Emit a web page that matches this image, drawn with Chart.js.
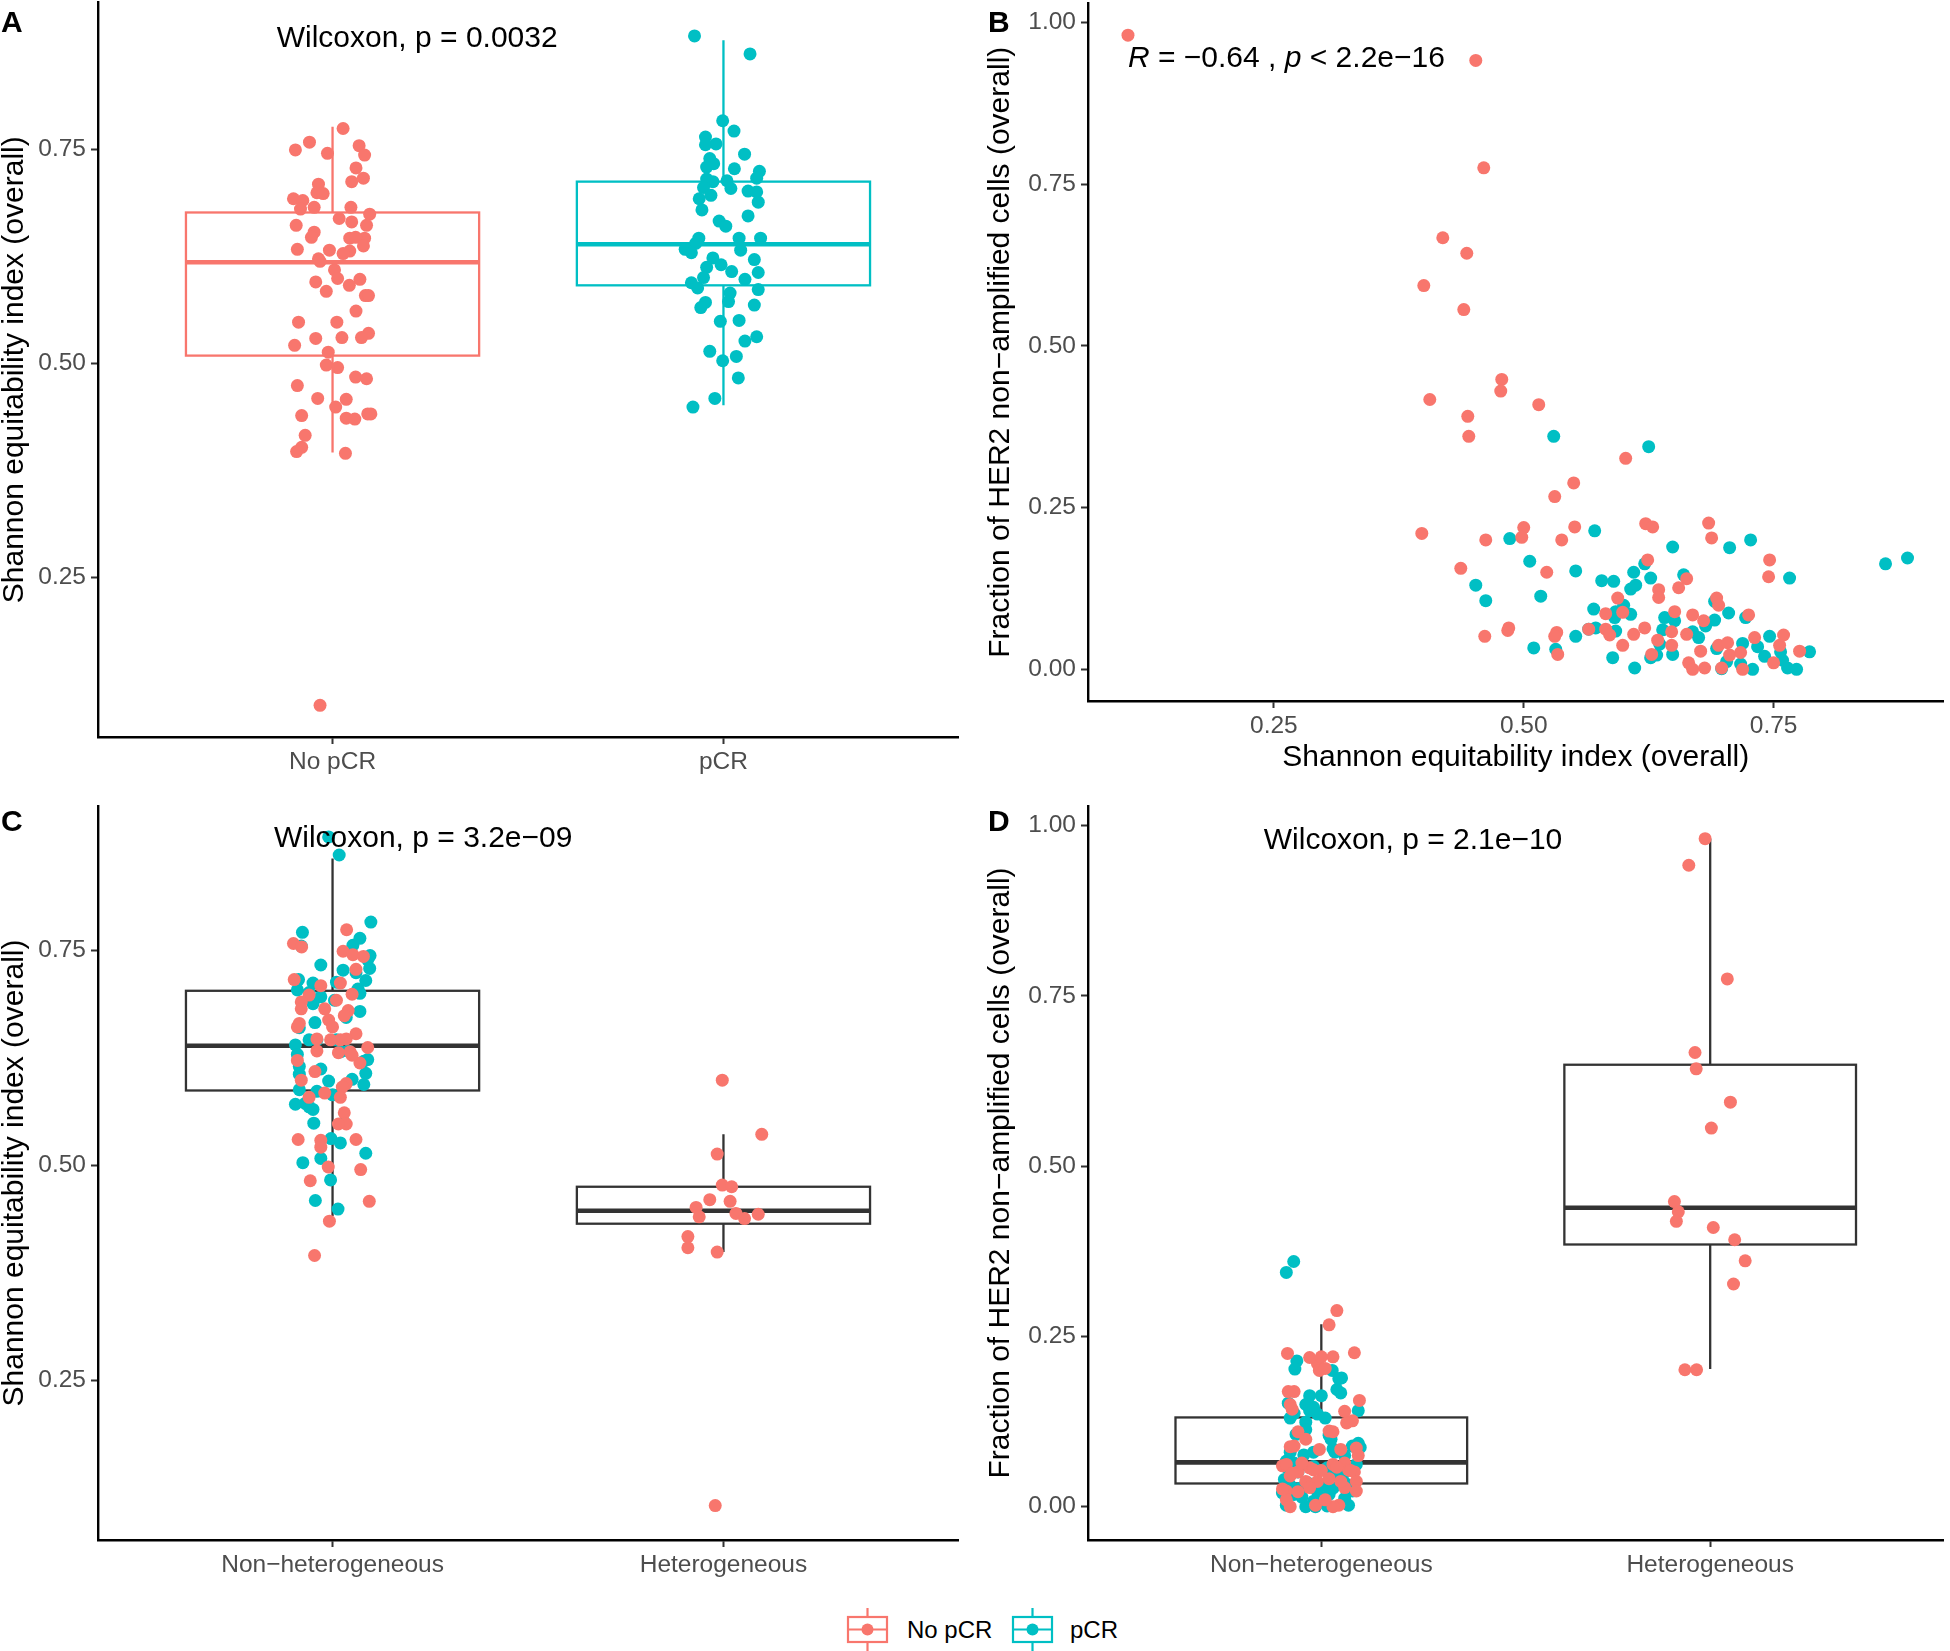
<!DOCTYPE html>
<html>
<head>
<meta charset="utf-8">
<script src="https://cdn.jsdelivr.net/npm/chart.js@4.4.1/dist/chart.umd.min.js"></script>
<style>
body { margin: 0; background: #fff; width: 1950px; height: 1651px; position: relative; overflow: hidden; font-family: "Liberation Sans", Arial, sans-serif; }
canvas { position: absolute; }
.tag { position: absolute; font-weight: bold; font-size: 30px; line-height: 1; color: #000; z-index: 2; }
.lg { position: absolute; font-size: 24px; line-height: 1; color: #000; }
svg { position: absolute; }
</style>
</head>
<body>
<canvas id="chartA" width="975" height="794" style="left:0;top:-4px"></canvas>
<canvas id="chartB" width="975" height="793" style="left:975px;top:-3px"></canvas>
<canvas id="chartC" width="975" height="810" style="left:0;top:790px"></canvas>
<canvas id="chartD" width="975" height="810" style="left:975px;top:790px"></canvas>
<div class="tag" style="left:1px;top:7px">A</div>
<div class="tag" style="left:988px;top:7px">B</div>
<div class="tag" style="left:1px;top:806px">C</div>
<div class="tag" style="left:988px;top:806px">D</div>

<svg width="44" height="44" style="left:846px;top:1608px">
  <line x1="21.5" y1="0" x2="21.5" y2="9" stroke="#F8766D" stroke-width="2.2"/>
  <line x1="21.5" y1="34" x2="21.5" y2="44" stroke="#F8766D" stroke-width="2.2"/>
  <rect x="2" y="9" width="39" height="25" fill="none" stroke="#F8766D" stroke-width="2.2"/>
  <line x1="2" y1="21.5" x2="41" y2="21.5" stroke="#F8766D" stroke-width="2.2"/>
  <circle cx="21.5" cy="21.5" r="6" fill="#F8766D"/>
</svg>
<div class="lg" style="left:907px;top:1618px">No pCR</div>
<svg width="44" height="44" style="left:1011px;top:1608px">
  <line x1="21.5" y1="0" x2="21.5" y2="9" stroke="#00BFC4" stroke-width="2.2"/>
  <line x1="21.5" y1="34" x2="21.5" y2="44" stroke="#00BFC4" stroke-width="2.2"/>
  <rect x="2" y="9" width="39" height="25" fill="none" stroke="#00BFC4" stroke-width="2.2"/>
  <line x1="2" y1="21.5" x2="41" y2="21.5" stroke="#00BFC4" stroke-width="2.2"/>
  <circle cx="21.5" cy="21.5" r="6" fill="#00BFC4"/>
</svg>
<div class="lg" style="left:1070px;top:1618px">pCR</div>

<script>
const RED = "#F8766D", CYAN = "#00BFC4", DARK = "#333333";
Chart.defaults.font.family = '"Liberation Sans", Arial, sans-serif';

const responseGroups = ["No pCR", "pCR"];
const hetGroups = ["Non\u2212heterogeneous", "Heterogeneous"];
const shannonTicks = [0.25, 0.50, 0.75];
const fractionTicks = [0.00, 0.25, 0.50, 0.75, 1.00];
const shannonTitle = "Shannon equitability index (overall)";
const fractionTitle = "Fraction of HER2 non\u2212amplified cells (overall)";

// panel A: [jitter, shannon]
const noPcrA = [[0.027,0.774],[-0.059,0.758],[-0.095,0.749],[-0.013,0.745],[0.068,0.754],[0.082,0.743],[0.060,0.728],[0.079,0.716],[0.049,0.712],[-0.036,0.709],
  [-0.040,0.699],[-0.024,0.698],[-0.100,0.692],[-0.076,0.690],[-0.082,0.680],[-0.047,0.682],[0.047,0.682],[0.095,0.674],[0.017,0.669],[0.049,0.665],
  [-0.093,0.661],[0.087,0.661],[-0.047,0.653],[-0.054,0.647],[0.044,0.646],[0.082,0.646],[0.059,0.647],[0.079,0.637],[-0.090,0.633],[-0.008,0.632],
  [0.044,0.631],[-0.036,0.622],[-0.032,0.619],[0.027,0.628],[0.005,0.609],[0.013,0.599],[0.070,0.598],[-0.043,0.595],[0.043,0.591],[-0.016,0.584],
  [0.084,0.579],[0.092,0.579],[0.060,0.561],[-0.087,0.548],[0.011,0.548],[0.092,0.535],[0.074,0.530],[-0.043,0.529],[0.024,0.530],[-0.097,0.521],
  [-0.011,0.513],[-0.016,0.498],[0.013,0.495],[0.059,0.484],[0.087,0.482],[-0.090,0.474],[-0.038,0.459],[0.008,0.449],[0.035,0.458],[-0.079,0.439],
  [0.035,0.436],[0.057,0.435],[0.090,0.441],[0.098,0.441],[-0.070,0.416],[-0.079,0.402],[-0.092,0.397],[0.033,0.395],[-0.032,0.101]];
const pcrA = [[-0.074,0.882],[0.068,0.861],[-0.002,0.783],[0.027,0.771],[-0.046,0.764],[-0.019,0.756],[-0.046,0.755],[0.054,0.744],[-0.035,0.739],[-0.025,0.733],
  [-0.043,0.729],[0.028,0.727],[0.092,0.724],[0.085,0.716],[-0.043,0.715],[0.009,0.713],[-0.027,0.712],[-0.051,0.705],[0.019,0.704],[0.063,0.701],
  [0.085,0.700],[-0.032,0.696],[-0.062,0.692],[0.089,0.688],[-0.055,0.679],[0.063,0.672],[-0.011,0.666],[0.006,0.660],[-0.063,0.646],[0.040,0.646],
  [0.095,0.646],[-0.071,0.640],[-0.098,0.633],[0.044,0.632],[-0.082,0.629],[-0.027,0.623],[0.079,0.621],[-0.006,0.615],[-0.043,0.612],[0.021,0.607],
  [0.089,0.606],[-0.051,0.600],[-0.082,0.594],[0.055,0.598],[-0.066,0.588],[0.089,0.586],[0.017,0.582],[0.013,0.572],[-0.046,0.571],[-0.058,0.565],
  [0.079,0.568],[-0.008,0.549],[0.040,0.550],[0.085,0.531],[0.055,0.526],[-0.035,0.514],[0.033,0.508],[-0.002,0.503],[0.038,0.483],[-0.022,0.459],[-0.078,0.449]];
// box: [lower whisker, q1, median, q3, upper whisker]
const boxA = [[0.396, 0.509, 0.618, 0.676, 0.776], [0.451, 0.591, 0.639, 0.712, 0.877]];

// panel B: [shannon, fraction]
const noPcrB = [[0.104,0.980],[0.452,0.941],[0.460,0.775],[0.419,0.667],[0.443,0.643],[0.400,0.593],[0.440,0.556],[0.478,0.448],[0.477,0.430],[0.406,0.417],
  [0.515,0.409],[0.444,0.391],[0.445,0.360],[0.602,0.326],[0.550,0.288],[0.531,0.267],[0.398,0.210],[0.500,0.219],[0.498,0.204],[0.551,0.220],
  [0.462,0.200],[0.538,0.200],[0.622,0.225],[0.629,0.220],[0.685,0.226],[0.688,0.203],[0.437,0.156],[0.523,0.150],[0.624,0.169],[0.746,0.169],
  [0.745,0.143],[0.663,0.140],[0.655,0.126],[0.635,0.123],[0.635,0.111],[0.594,0.110],[0.693,0.110],[0.695,0.099],[0.582,0.086],[0.599,0.088],
  [0.651,0.089],[0.669,0.084],[0.725,0.084],[0.485,0.064],[0.484,0.060],[0.533,0.057],[0.531,0.051],[0.461,0.051],[0.565,0.062],[0.582,0.062],
  [0.586,0.053],[0.621,0.064],[0.610,0.054],[0.648,0.058],[0.663,0.054],[0.680,0.075],[0.634,0.045],[0.648,0.037],[0.599,0.037],[0.534,0.023],
  [0.628,0.023],[0.677,0.028],[0.695,0.037],[0.704,0.041],[0.706,0.022],[0.731,0.049],[0.756,0.037],[0.760,0.053],[0.776,0.028],[0.665,0.010],
  [0.669,0.000],[0.681,0.002],[0.698,0.002],[0.719,0.000],[0.750,0.010],[0.717,0.026]];
const pcrB = [[0.884,0.172],[0.862,0.163],[0.530,0.360],[0.625,0.344],[0.571,0.214],[0.486,0.202],[0.727,0.200],[0.649,0.189],[0.706,0.188],[0.506,0.167],
  [0.621,0.163],[0.552,0.152],[0.610,0.150],[0.627,0.141],[0.660,0.146],[0.766,0.141],[0.578,0.137],[0.590,0.136],[0.452,0.130],[0.612,0.130],
  [0.607,0.124],[0.517,0.113],[0.462,0.106],[0.691,0.105],[0.570,0.093],[0.600,0.099],[0.592,0.089],[0.607,0.085],[0.705,0.087],[0.722,0.080],
  [0.641,0.080],[0.651,0.075],[0.691,0.076],[0.682,0.067],[0.591,0.080],[0.572,0.064],[0.565,0.062],[0.639,0.061],[0.586,0.057],[0.592,0.059],
  [0.552,0.051],[0.669,0.058],[0.675,0.049],[0.746,0.051],[0.719,0.040],[0.636,0.039],[0.734,0.035],[0.510,0.033],[0.532,0.031],[0.693,0.032],
  [0.757,0.027],[0.786,0.027],[0.649,0.023],[0.633,0.022],[0.741,0.020],[0.589,0.018],[0.627,0.018],[0.703,0.012],[0.717,0.008],[0.611,0.002],
  [0.698,0.001],[0.729,0.000],[0.764,0.002],[0.773,0.000],[0.759,0.014]];

// panel C: [jitter, shannon]
const noPcrNonHetC = [[0.036,0.774],[-0.100,0.758],[0.027,0.749],[0.052,0.745],[-0.079,0.754],[0.079,0.743],[0.060,0.728],[-0.098,0.716],[0.020,0.712],[-0.030,0.709],
  [0.050,0.699],[-0.060,0.698],[0.010,0.692],[-0.080,0.690],[0.040,0.680],[-0.020,0.682],[-0.080,0.682],[0.030,0.674],[-0.010,0.669],[-0.085,0.665],
  [0.000,0.661],[-0.090,0.661],[0.060,0.653],[-0.040,0.647],[0.020,0.646],[-0.005,0.646],[0.035,0.647],[0.090,0.637],[-0.040,0.633],[0.045,0.632],
  [0.015,0.631],[-0.090,0.622],[0.070,0.619],[0.050,0.628],[-0.045,0.609],[-0.080,0.599],[0.035,0.595],[0.025,0.591],[-0.020,0.584],[0.020,0.579],
  [-0.060,0.579],[0.030,0.561],[0.035,0.548],[0.015,0.548],[-0.088,0.530],[-0.030,0.529],[0.060,0.530],[-0.030,0.521],[-0.011,0.498],[0.072,0.495],
  [-0.057,0.482],[-0.008,0.435],[-0.046,0.395],[0.094,0.458]];
const pcrNonHetC = [[-0.010,0.882],[0.017,0.861],[0.098,0.783],[-0.077,0.771],[0.070,0.764],[0.052,0.756],[-0.080,0.755],[0.096,0.744],[0.090,0.739],[-0.030,0.733],
  [0.095,0.729],[0.027,0.727],[0.060,0.724],[-0.087,0.716],[0.085,0.715],[0.010,0.713],[-0.050,0.712],[0.065,0.705],[-0.090,0.704],[-0.060,0.701],
  [0.070,0.700],[-0.030,0.696],[0.005,0.692],[-0.050,0.688],[0.070,0.679],[0.035,0.672],[-0.045,0.666],[-0.085,0.660],[-0.040,0.646],[-0.060,0.646],
  [0.010,0.646],[-0.095,0.640],[0.040,0.633],[0.020,0.632],[-0.090,0.629],[0.090,0.623],[0.080,0.621],[-0.085,0.615],[-0.030,0.612],[0.085,0.607],
  [-0.085,0.606],[0.050,0.600],[0.080,0.594],[-0.010,0.598],[-0.085,0.588],[-0.040,0.586],[0.000,0.582],[-0.070,0.572],[-0.095,0.571],[-0.050,0.565],
  [-0.060,0.568],[-0.048,0.549],[0.030,0.550],[-0.004,0.531],[0.020,0.526],[0.085,0.514],[-0.030,0.508],[-0.076,0.503],[-0.005,0.483],[-0.044,0.459],[0.014,0.449]];
const noPcrHetC = [[-0.003,0.599],[0.098,0.536],[-0.016,0.513],[-0.003,0.477],[0.021,0.475],[-0.035,0.460],[0.017,0.458],[-0.070,0.451],
  [-0.062,0.440],[0.032,0.444],[0.054,0.438],[0.089,0.443],[-0.091,0.417],[-0.091,0.404],[-0.016,0.399],[-0.021,0.104]];
const boxC = [[0.441, 0.587, 0.639, 0.703, 0.857], [0.399, 0.432, 0.447, 0.475, 0.536]];

// panel D: [jitter, fraction]
const noPcrNonHetD = [[0.04,0.288],[0.02,0.267],[-0.01,0.210],[-0.03,0.219],[0.03,0.220],[-0.005,0.200],[-0.087,0.225],[0.00,0.220],[0.085,0.226],[0.01,0.203],
  [0.098,0.156],[-0.08,0.150],[-0.085,0.169],[-0.07,0.169],[-0.075,0.143],[0.06,0.140],[0.08,0.126],[0.065,0.123],[0.02,0.111],[0.03,0.110],
  [-0.06,0.110],[-0.04,0.099],[0.09,0.086],[-0.08,0.088],[-0.07,0.089],[0.05,0.084],[-0.005,0.084],[0.06,0.064],[-0.10,0.060],[-0.03,0.057],
  [0.085,0.051],[-0.06,0.051],[0.03,0.062],[-0.09,0.062],[0.00,0.053],[-0.05,0.064],[0.07,0.054],[0.04,0.058],[-0.02,0.054],[0.095,0.075],
  [-0.08,0.045],[0.09,0.037],[-0.04,0.037],[0.09,0.023],[-0.09,0.023],[0.06,0.028],[-0.01,0.037],[0.02,0.041],[-0.06,0.022],[-0.075,0.049],
  [0.05,0.037],[0.075,0.053],[-0.03,0.028],[-0.09,0.010],[-0.08,0.000],[0.045,0.002],[-0.015,0.002],[0.03,0.000],[0.01,0.010],[-0.10,0.026]];
const pcrNonHetD = [[0.04,0.172],[0.00,0.163],[-0.071,0.360],[-0.090,0.344],[-0.063,0.214],[-0.068,0.202],[0.028,0.200],[0.052,0.189],[0.045,0.188],[0.050,0.167],
  [-0.03,0.163],[-0.085,0.152],[-0.04,0.150],[-0.03,0.141],[-0.02,0.146],[0.095,0.141],[-0.07,0.137],[-0.01,0.136],[0.01,0.130],[-0.08,0.130],
  [-0.04,0.124],[-0.04,0.113],[-0.065,0.106],[0.02,0.105],[0.095,0.093],[0.025,0.099],[0.08,0.089],[0.03,0.085],[0.10,0.087],[-0.02,0.080],
  [-0.08,0.080],[0.06,0.075],[-0.045,0.076],[-0.09,0.067],[0.035,0.080],[-0.07,0.064],[0.09,0.062],[-0.05,0.061],[0.015,0.057],[-0.02,0.059],
  [0.06,0.051],[-0.09,0.058],[0.03,0.049],[-0.06,0.051],[-0.095,0.040],[0.055,0.039],[-0.035,0.035],[0.065,0.033],[-0.08,0.031],[0.005,0.032],
  [0.03,0.027],[-0.055,0.027],[0.08,0.023],[-0.01,0.022],[-0.10,0.020],[0.02,0.018],[-0.07,0.018],[0.06,0.012],[-0.02,0.008],[-0.09,0.002],
  [0.015,0.001],[-0.015,0.000],[0.07,0.002],[-0.04,0.000],[-0.05,0.014]];
const noPcrHetD = [[-0.013,0.981],[-0.055,0.942],[0.044,0.775],[-0.039,0.667],[-0.036,0.643],[0.052,0.594],[0.003,0.556],[-0.092,0.448],
  [-0.082,0.433],[-0.087,0.419],[0.008,0.410],[0.063,0.392],[0.090,0.361],[0.060,0.327],[-0.065,0.201],[-0.035,0.201]];
const boxD = [[0.000, 0.034, 0.065, 0.131, 0.268], [0.202, 0.385, 0.439, 0.649, 0.981]];

function boxPlugin(stats, colors) {
  return {
    id: "boxes",
    beforeDatasetsDraw(chart) {
      const { ctx, scales: { x, y } } = chart;
      stats.forEach((s, i) => {
        const cx = x.getPixelForValue(i + 1);
        const half = x.getPixelForValue(i + 1.375) - cx;
        const [lo, q1, med, q3, hi] = s.map(v => y.getPixelForValue(v));
        ctx.save();
        ctx.strokeStyle = colors[i];
        ctx.lineWidth = 2.3;
        ctx.beginPath();
        ctx.moveTo(cx, lo); ctx.lineTo(cx, q1);
        ctx.moveTo(cx, q3); ctx.lineTo(cx, hi);
        ctx.stroke();
        ctx.strokeRect(cx - half, q3, 2 * half, q1 - q3);
        ctx.lineWidth = 4.6;
        ctx.beginPath();
        ctx.moveTo(cx - half, med); ctx.lineTo(cx + half, med);
        ctx.stroke();
        ctx.restore();
      });
    }
  };
}

// text pieces drawn at data coordinates
function notePlugin(note) {
  return {
    id: "note",
    afterDatasetsDraw(chart) {
      const { ctx, scales: { x, y } } = chart;
      let px = x.getPixelForValue(note.x);
      const py = y.getPixelForValue(note.y);
      ctx.save();
      ctx.fillStyle = "#000";
      ctx.textBaseline = "middle";
      ctx.textAlign = "left";
      note.parts.forEach(p => {
        ctx.font = (p.italic ? "italic " : "") + '30px "Liberation Sans", Arial, sans-serif';
        ctx.fillText(p.t, px, py);
        px += ctx.measureText(p.t).width;
      });
      ctx.restore();
    }
  };
}

const tickFont = { size: 24.5 };
function noEdgePadding(s) {
  s.paddingTop = 0; s.paddingBottom = 0; s.paddingLeft = 0; s.paddingRight = 0;
}
function axisBase(extra) {
  return Object.assign({
    grid: { drawOnChartArea: false, drawTicks: true, tickLength: 7, tickColor: DARK, tickWidth: 2 },
    border: { display: true, color: "#000", width: 2.4 }
  }, extra);
}

function categoryX(labels, h) {
  return axisBase({
    type: "linear", min: 0.4, max: 2.6,
    afterBuildTicks: s => { s.ticks = [1, 2].map(v => ({ value: v })); },
    afterFit: s => { s.height = h; noEdgePadding(s); },
    ticks: { callback: (v, i) => labels[i], font: tickFont, color: "#4d4d4d", padding: 4, maxRotation: 0, autoSkip: false }
  });
}

function valueY(min, max, ticks, title, w, tpad) {
  return axisBase({
    type: "linear", min: min, max: max,
    afterBuildTicks: s => { s.ticks = ticks.map(v => ({ value: v })); },
    afterFit: s => { s.width = w; noEdgePadding(s); },
    ticks: { callback: v => Number(v).toFixed(2), font: tickFont, color: "#4d4d4d", padding: 5, autoSkip: false },
    title: { display: true, text: title, color: "#000", font: { size: 30, lineHeight: 1 }, padding: { top: tpad, bottom: 0 } }
  });
}

function pts(arr, base) {
  return arr.map(([a, b]) => ({ x: base + a, y: b }));
}

function dataset(data, color) {
  return { data: data, backgroundColor: color, borderWidth: 0, pointRadius: 6.5, pointHoverRadius: 6.5, clip: false };
}

function makeChart(id, datasets, scales, padding, plugins) {
  new Chart(document.getElementById(id), {
    type: "scatter",
    data: { datasets: datasets },
    options: {
      responsive: false,
      animation: false,
      events: [],
      layout: { padding: padding },
      plugins: { legend: { display: false }, tooltip: { enabled: false } },
      scales: scales
    },
    plugins: plugins
  });
}

// A
makeChart("chartA",
  [dataset(pts(noPcrA, 1), RED), dataset(pts(pcrA, 2), CYAN)],
  { x: categoryX(responseGroups, 53), y: valueY(0.064, 0.921, shannonTicks, shannonTitle, 98, 0) },
  { left: 0, right: 17, top: 0, bottom: 0 },
  [boxPlugin(boxA, [RED, CYAN]), notePlugin({ x: 0.857, y: 0.879, parts: [{ t: "Wilcoxon, p = 0.0032" }] })]);

// B
const xB = axisBase({
  type: "linear", min: 0.064, max: 0.92,
  afterBuildTicks: s => { s.ticks = shannonTicks.map(v => ({ value: v })); },
  afterFit: s => { s.height = 89; noEdgePadding(s); },
  ticks: { callback: v => Number(v).toFixed(2), font: tickFont, color: "#4d4d4d", padding: 4, maxRotation: 0, autoSkip: false },
  title: { display: true, text: shannonTitle, color: "#000", font: { size: 30, lineHeight: 1 }, padding: { top: 0, bottom: 17 } }
});
makeChart("chartB",
  [dataset(pts(noPcrB, 0), RED), dataset(pts(pcrB, 0), CYAN)],
  { x: xB, y: valueY(-0.049, 1.029, fractionTicks, fractionTitle, 113, 11) },
  { left: 0, right: 2, top: 0, bottom: 0 },
  [notePlugin({ x: 0.104, y: 0.944, parts: [{ t: "R", italic: true }, { t: " = \u22120.64 , " }, { t: "p", italic: true }, { t: " < 2.2e\u221216" }] })]);

// C
makeChart("chartC",
  [dataset(pts(noPcrNonHetC, 1), RED), dataset(pts(pcrNonHetC, 1), CYAN), dataset(pts(noPcrHetC, 2), RED)],
  { x: categoryX(hetGroups, 60), y: valueY(0.064, 0.918, shannonTicks, shannonTitle, 98, 0) },
  { left: 0, right: 17, top: 16, bottom: 0 },
  [boxPlugin(boxC, [DARK, DARK]), notePlugin({ x: 0.85, y: 0.880, parts: [{ t: "Wilcoxon, p = 3.2e\u221209" }] })]);

// D
makeChart("chartD",
  [dataset(pts(noPcrNonHetD, 1), RED), dataset(pts(pcrNonHetD, 1), CYAN), dataset(pts(noPcrHetD, 2), RED)],
  { x: categoryX(hetGroups, 60), y: valueY(-0.049, 1.029, fractionTicks, fractionTitle, 113, 11) },
  { left: 0, right: 2, top: 16, bottom: 0 },
  [boxPlugin(boxD, [DARK, DARK]), notePlugin({ x: 0.852, y: 0.978, parts: [{ t: "Wilcoxon, p = 2.1e\u221210" }] })]);
</script>
</body>
</html>
